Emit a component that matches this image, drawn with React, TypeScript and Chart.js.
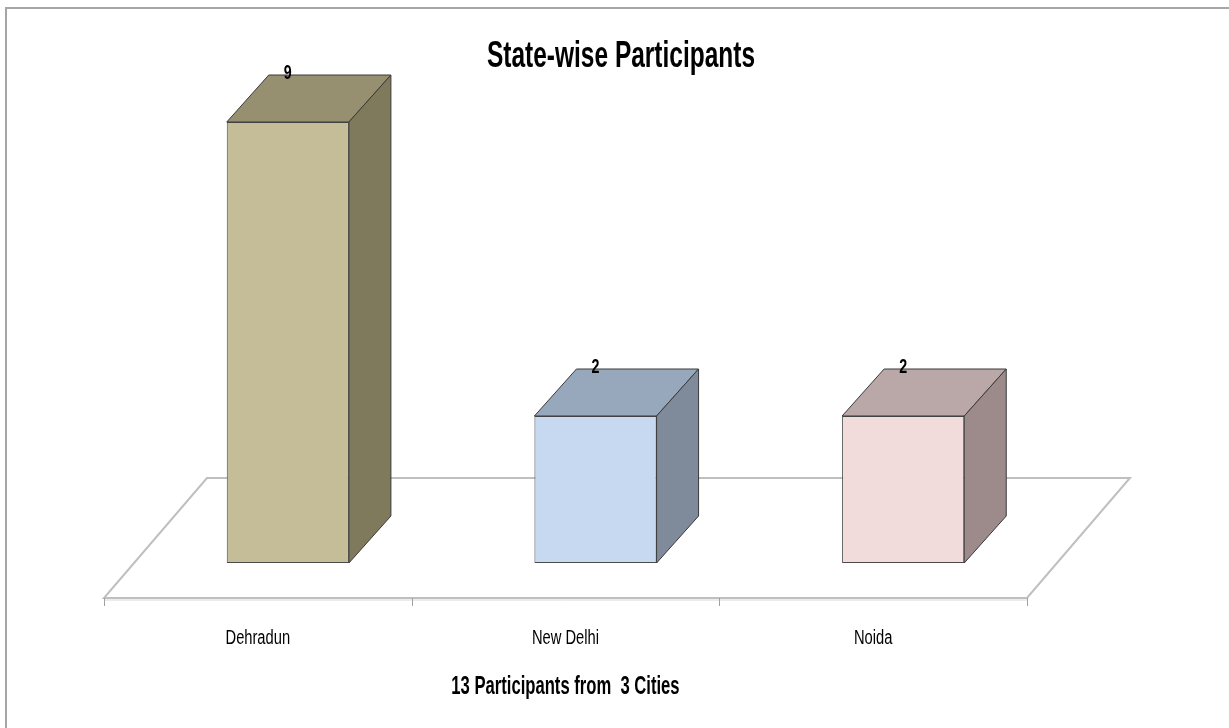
import React, { useEffect, useRef } from "react";
import { Chart, registerables } from "chart.js";

Chart.register(...registerables);

// ---- data ----
const CATEGORIES: string[] = ["Dehradun", "New Delhi", "Noida"];
const PARTICIPANTS: number[] = [9, 2, 2];
const CHART_TITLE = "State-wise Participants";
const AXIS_TITLE = "13 Participants from  3 Cities";
const Y_MIN = -1.5; // floor level of the 3D plot
const Y_MAX = 10;

// ---- styles ----
const FRONT_COLORS = ["#C4BD97", "#C6D9F1", "#F2DCDB"];
const TOP_COLORS = ["#968F70", "#98A8BC", "#B9A8A7"];
const SIDE_COLORS = ["#807A5D", "#7F8A9B", "#9C8B8A"];
const FONT = "'Liberation Sans', Arial, sans-serif";
const DEPTH_X = 42;
const DEPTH_Y = -47;
const FLOOR_SLOPE = 103 / 120;
const FLOOR_FRONT = 35;
const FLOOR_BACK = 85;

function drawText(
  ctx: CanvasRenderingContext2D,
  text: string,
  x: number,
  y: number,
  font: string,
  sx: number
) {
  ctx.save();
  ctx.font = font;
  ctx.fillStyle = "#000000";
  ctx.textAlign = "center";
  ctx.textBaseline = "alphabetic";
  ctx.translate(x, y);
  ctx.scale(sx, 1);
  ctx.fillText(text, 0, 0);
  ctx.restore();
}

const threeDPlugin = {
  id: "threeD",
  beforeDraw(chart: any) {
    const ctx: CanvasRenderingContext2D = chart.ctx;
    ctx.save();
    ctx.fillStyle = "#ffffff";
    ctx.fillRect(0, 0, chart.width, chart.height);
    ctx.strokeStyle = "#A6A6A6";
    ctx.lineWidth = 2;
    ctx.strokeRect(6, 8, chart.width + 20, chart.height + 20);
    ctx.restore();
  },
  beforeDatasetsDraw(chart: any) {
    const ctx: CanvasRenderingContext2D = chart.ctx;
    const xs = chart.scales.x;
    const ys = chart.scales.y;
    const base = ys.getPixelForValue(Y_MIN);
    const left = xs.getPixelForValue(-0.5);
    const right = xs.getPixelForValue(CATEGORIES.length - 0.5);
    const fy = base + FLOOR_FRONT;
    const fdx = -FLOOR_FRONT * FLOOR_SLOPE;
    const by = base - FLOOR_BACK;
    const bdx = FLOOR_BACK * FLOOR_SLOPE;
    ctx.save();
    // shadow of front edge
    ctx.strokeStyle = "#DADADA";
    ctx.lineWidth = 1;
    ctx.beginPath();
    ctx.moveTo(left + fdx, fy + 2);
    ctx.lineTo(right + fdx, fy + 2);
    ctx.stroke();
    ctx.beginPath();
    ctx.moveTo(left + fdx, fy);
    ctx.lineTo(right + fdx, fy);
    ctx.lineTo(right + bdx, by);
    ctx.lineTo(left + bdx, by);
    ctx.closePath();
    ctx.fillStyle = "#ffffff";
    ctx.fill();
    ctx.strokeStyle = "#BFBFBF";
    ctx.lineWidth = 2;
    ctx.stroke();
    // ticks
    ctx.strokeStyle = "#A0A0A0";
    ctx.lineWidth = 1;
    for (let i = 0; i <= CATEGORIES.length; i++) {
      const x = Math.round(xs.getPixelForValue(i - 0.5) + fdx) + 0.5;
      ctx.beginPath();
      ctx.moveTo(x, fy);
      ctx.lineTo(x, fy + 8);
      ctx.stroke();
    }
    ctx.restore();
  },
  afterDatasetsDraw(chart: any) {
    const ctx: CanvasRenderingContext2D = chart.ctx;
    const meta = chart.getDatasetMeta(0);
    const xs = chart.scales.x;
    ctx.save();
    meta.data.forEach((bar: any, i: number) => {
      const { x, y, base, width } = bar.getProps(["x", "y", "base", "width"], true);
      const l = x - width / 2;
      const r = x + width / 2;
      ctx.strokeStyle = "#3A3A3A";
      ctx.lineWidth = 1;
      ctx.lineJoin = "round";
      // top face
      ctx.beginPath();
      ctx.moveTo(l, y);
      ctx.lineTo(r, y);
      ctx.lineTo(r + DEPTH_X, y + DEPTH_Y);
      ctx.lineTo(l + DEPTH_X, y + DEPTH_Y);
      ctx.closePath();
      ctx.fillStyle = TOP_COLORS[i];
      ctx.fill();
      ctx.stroke();
      // side face
      ctx.beginPath();
      ctx.moveTo(r, y);
      ctx.lineTo(r + DEPTH_X, y + DEPTH_Y);
      ctx.lineTo(r + DEPTH_X, base + DEPTH_Y);
      ctx.lineTo(r, base);
      ctx.closePath();
      ctx.fillStyle = SIDE_COLORS[i];
      ctx.fill();
      ctx.stroke();
      // value label
      drawText(ctx, String(PARTICIPANTS[i]), x, y + DEPTH_Y + 4, `bold 21px ${FONT}`, 0.68);
    });
    // category labels
    const floorShift = -FLOOR_FRONT * FLOOR_SLOPE;
    CATEGORIES.forEach((c, i) => {
      drawText(ctx, c, xs.getPixelForValue(i) + floorShift, 644, `20px ${FONT}`, 0.735);
    });
    // axis title (centred on the floor's front edge)
    const mid = (xs.getPixelForValue(-0.5) + xs.getPixelForValue(CATEGORIES.length - 0.5)) / 2 + floorShift;
    drawText(ctx, AXIS_TITLE, mid, 694, `bold 25px ${FONT}`, 0.665);
    // chart title
    drawText(ctx, CHART_TITLE, 621, 67, `bold 36px ${FONT}`, 0.68);
    ctx.restore();
  },
};

export default function App() {
  const ref = useRef<HTMLCanvasElement | null>(null);
  useEffect(() => {
    if (!ref.current) return;
    const chart = new Chart(ref.current, {
      type: "bar",
      data: {
        labels: CATEGORIES,
        datasets: [
          {
            label: "Participants",
            data: PARTICIPANTS,
            base: Y_MIN,
            backgroundColor: FRONT_COLORS,
            borderColor: "#4A4A4A",
            borderWidth: 1,
            borderSkipped: false,
            barPercentage: 0.397,
            categoryPercentage: 1,
          } as any,
        ],
      },
      options: {
        responsive: false,
        animation: false,
        layout: { padding: { left: 134, right: 172, top: 80, bottom: 165 } },
        plugins: {
          legend: { display: false },
          title: { display: false },
          tooltip: { enabled: false },
        },
        scales: {
          x: { display: false },
          y: { display: false, min: Y_MIN, max: Y_MAX },
        },
      },
      plugins: [threeDPlugin],
    });
    return () => chart.destroy();
  }, []);
  return (
    <div style={{ position: "fixed", left: 0, top: 0, width: 1229, height: 728, background: "#fff" }}>
      <canvas ref={ref} width={1229} height={728} style={{ display: "block" }} />
    </div>
  );
}
